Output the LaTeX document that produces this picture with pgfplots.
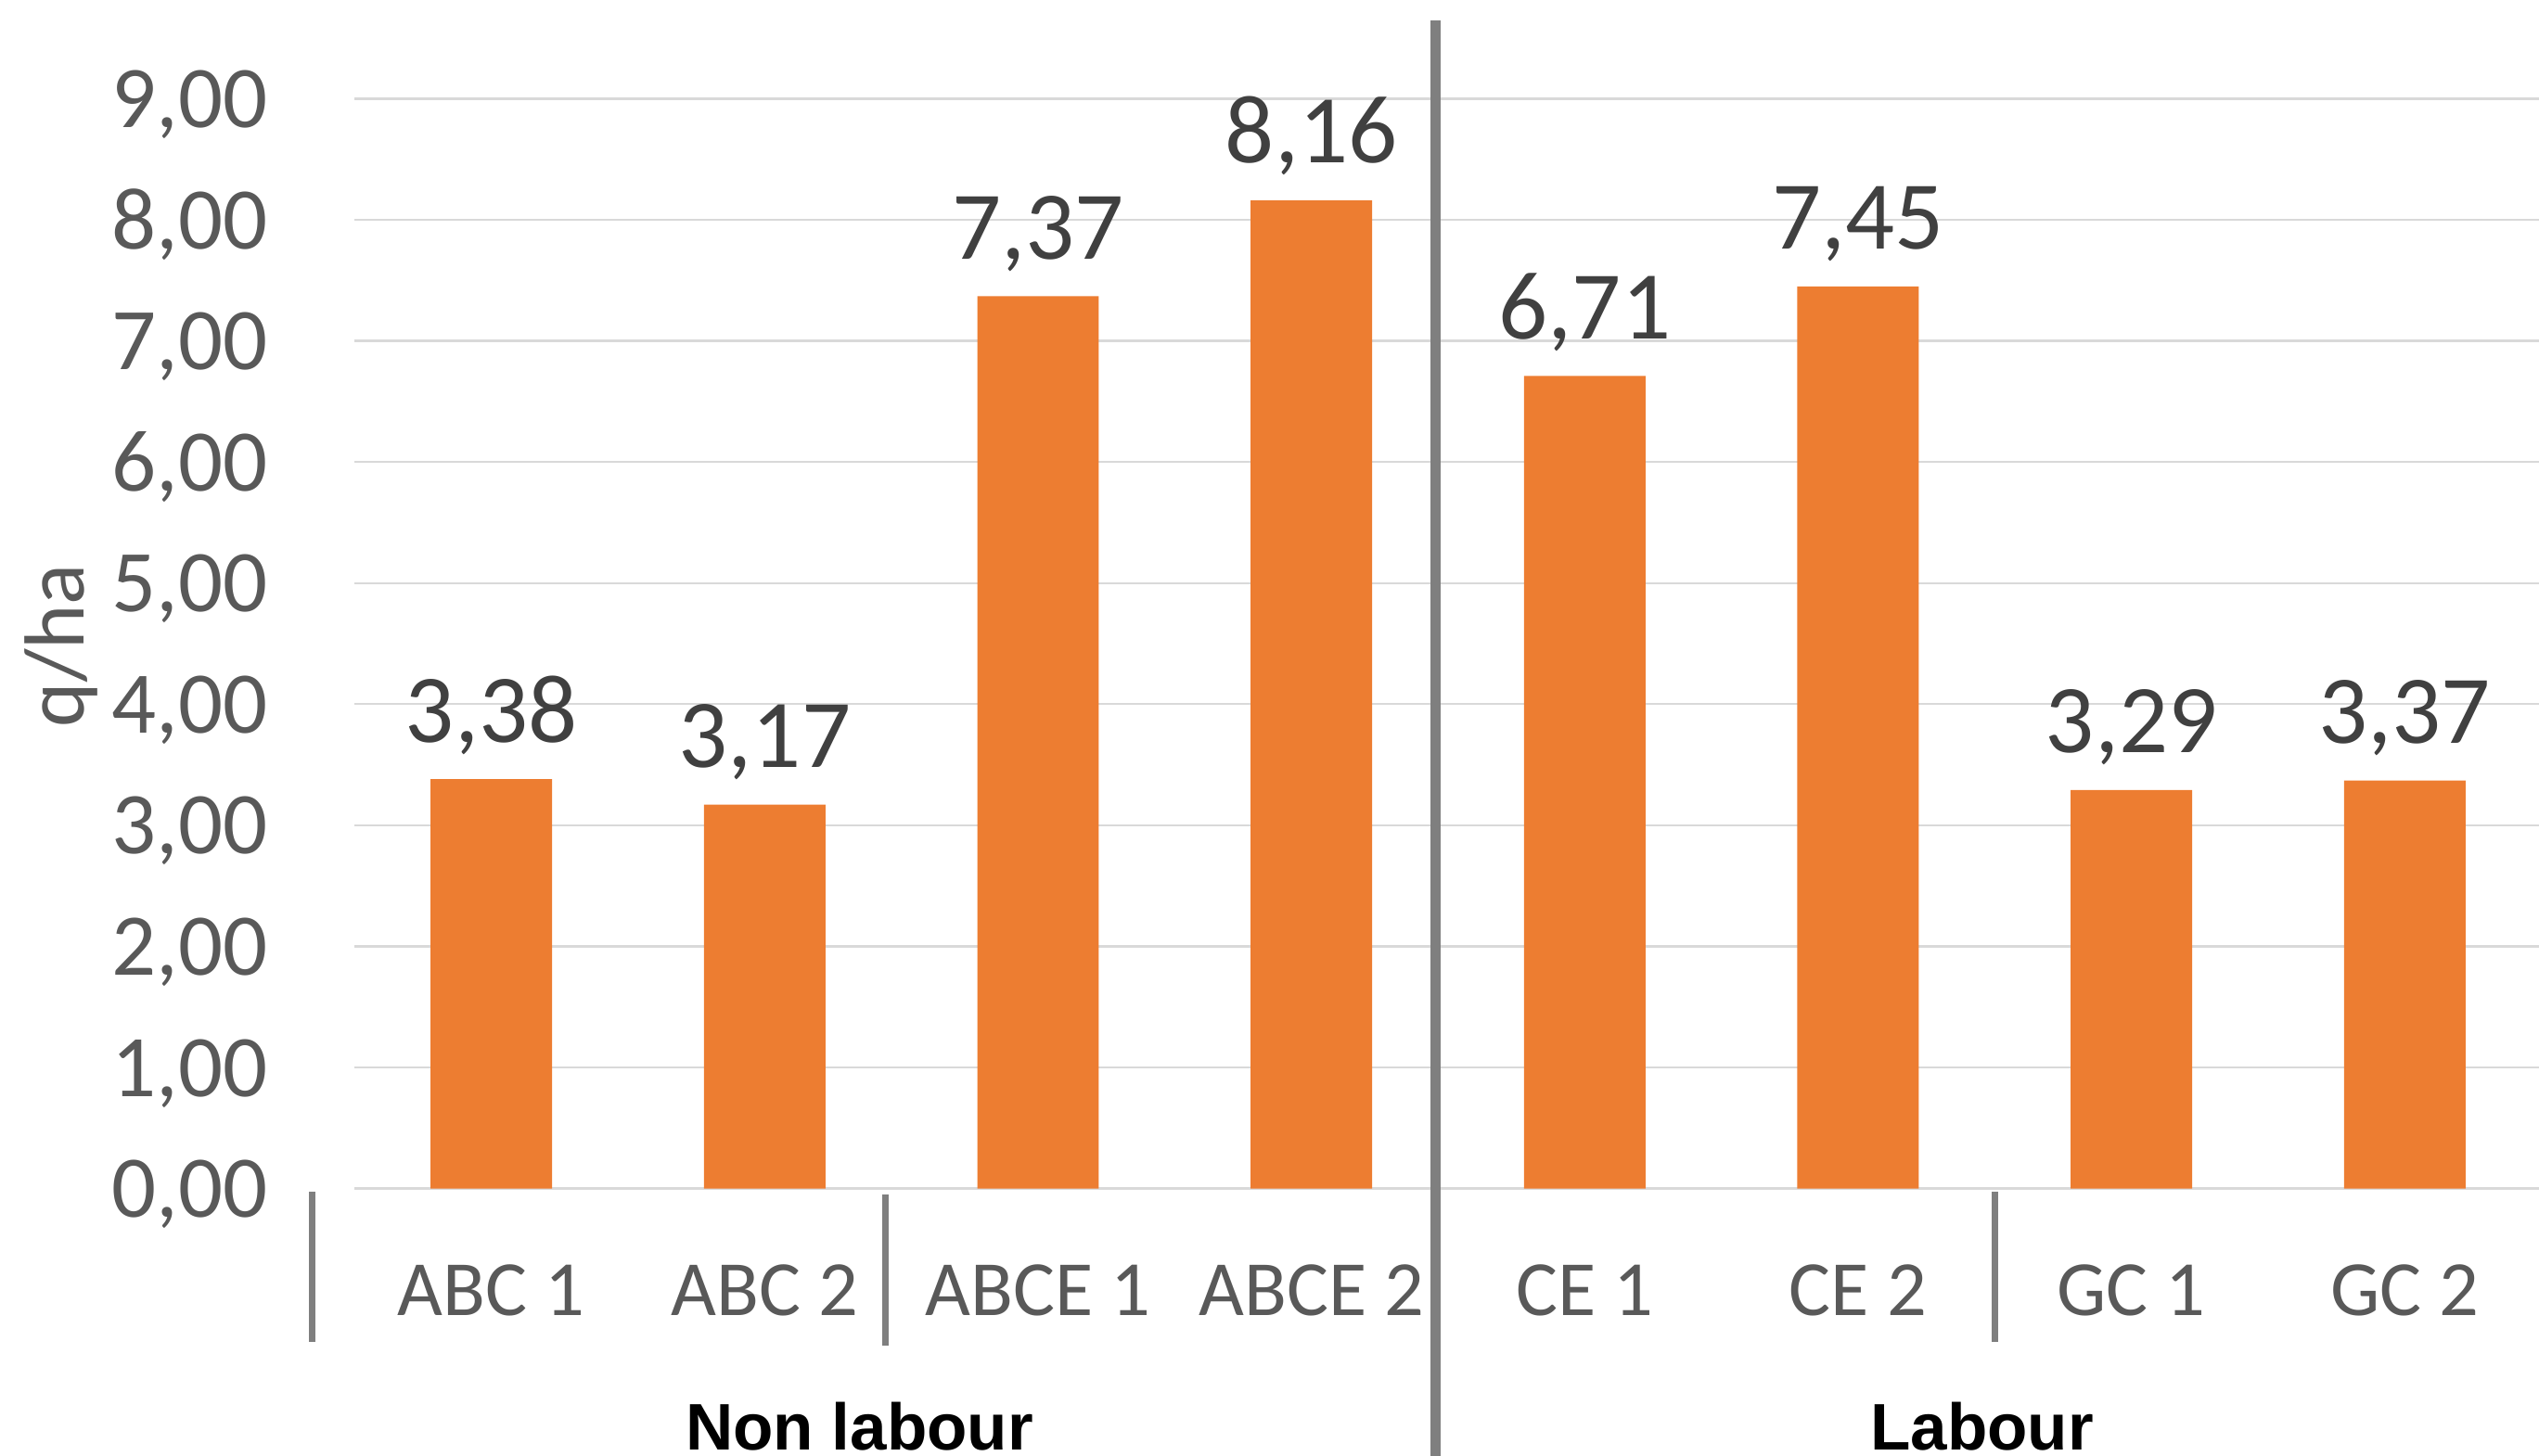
\documentclass[border=0pt]{standalone}
\usepackage{pgfplots}
\pgfplotsset{compat=1.18}
\usepackage{fontspec}
\setmainfont{Carlito}
\newfontfamily\grpfont{Liberation Sans}
\definecolor{barorange}{HTML}{ED7D31}
\definecolor{ticktext}{HTML}{595959}
\definecolor{labeltext}{HTML}{404040}
\definecolor{gridgray}{HTML}{D9D9D9}
\definecolor{sepgray}{HTML}{7F7F7F}
\begin{document}
\begin{tikzpicture}
\begin{axis}[
  scale only axis,
  width=405pt, height=201.9pt,
  xmin=-0.5, xmax=7.5,
  ymin=0, ymax=9,
  ytick={0,1,2,3,4,5,6,7,8,9},
  xtick={0,1,2,3,4,5,6,7},
  xticklabels={ABC 1, ABC 2, ABCE 1, ABCE 2, CE 1, CE 2, GC 1, GC 2},
  ymajorgrids,
  grid style={draw=gridgray, line width=0.4pt},
  axis line style={draw=none},
  major tick length=0pt,
  clip=false,
  /pgf/number format/assume math mode=true,
  yticklabel={\pgfmathprintnumber[fixed,fixed zerofill,precision=2,use comma]{\tick}},
  yticklabel style={font=\fontsize{16.3}{18}\selectfont, text=ticktext, anchor=base east, inner sep=0pt, xshift=-15.9pt, yshift=-5.35pt},
  xticklabel style={font=\fontsize{14.5}{16}\selectfont, text=ticktext, anchor=base, inner sep=0pt, yshift=-23.55pt},
  every axis y label/.style={at={([xshift=-50.1pt]rel axis cs:0,0.4982)}, rotate=90, anchor=base},
  ylabel={q/ha},
  ylabel style={font=\fontsize{15.8}{17}\selectfont, text=ticktext, inner sep=0pt},
  ybar, bar width=22.5pt,
  nodes near coords={\pgfmathprintnumber[fixed,fixed zerofill,precision=2,use comma]{\pgfplotspointmeta}},
  every node near coord/.append style={font=\fontsize{18}{20}\selectfont, text=labeltext, anchor=base, inner sep=0pt, yshift=6.9pt},
]
\addplot[fill=barorange, draw=none] coordinates {
  (0,3.38) (1,3.17) (2,7.37) (3,8.16) (4,6.71) (5,7.45) (6,3.29) (7,3.37)
};
% separators
\draw[sepgray, line width=1.2pt] (axis cs:-0.655,-0.03) -- (axis cs:-0.655,-1.27);
\draw[sepgray, line width=1.2pt] (axis cs:1.443,-0.05) -- (axis cs:1.443,-1.30);
\draw[sepgray, line width=1.2pt] (axis cs:5.50,-0.03) -- (axis cs:5.50,-1.27);
\draw[sepgray, line width=2pt] (axis cs:3.454,9.644) -- (axis cs:3.454,-2.35);
% group labels
\node[anchor=base, inner sep=0pt, font=\grpfont\bfseries\fontsize{12.2}{14}\selectfont, text=black] at (axis cs:1.3466,-2.16) {Non labour};
\node[anchor=base, inner sep=0pt, font=\grpfont\bfseries\fontsize{12.2}{14}\selectfont, text=black] at (axis cs:5.453,-2.16) {Labour};
\coordinate (bbbl) at (rel axis cs:-0.1622,-0.2452);
\coordinate (bbtr) at (rel axis cs:0.9989,1.0906);
\end{axis}
\pgfresetboundingbox
\useasboundingbox (bbbl) rectangle (bbtr);
\end{tikzpicture}
\end{document}
